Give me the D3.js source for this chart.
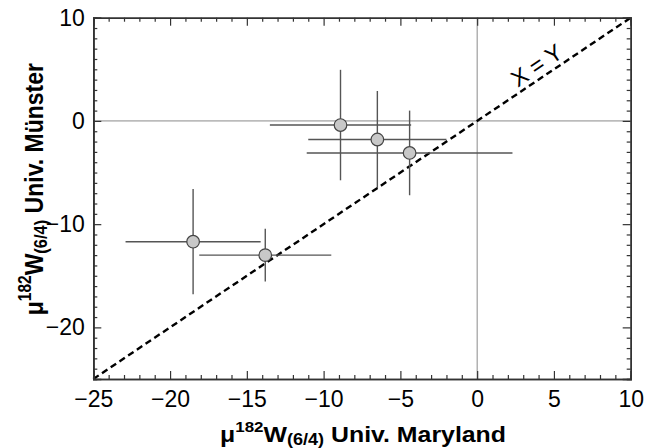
<!DOCTYPE html>
<html>
<head>
<meta charset="utf-8">
<script src="https://cdn.jsdelivr.net/npm/d3@7"></script>
<style>
  html, body { margin: 0; padding: 0; background: #fff; }
  svg { display: block; font-family: "Liberation Sans", Arial, Helvetica, sans-serif; }
</style>
</head>
<body>
<svg id="chart" width="646" height="448"></svg>
<script>
// μ182W(6/4) measured by two laboratories, with 2σ error bars
const maryland     = [-18.5, -13.8, -8.9, -6.5, -4.4];
const munster      = [-11.7, -13.0, -0.4, -1.8, -3.1];
const marylandErr  = [4.4, 4.3, 4.6, 4.5, 6.7];
const munsterErr   = [5.1, 2.55, 5.35, 4.7, 4.1];

const xDomain = [-25, 10];
const yDomain = [-25, 10];
const xTickLabels = [-25, -20, -15, -10, -5, 0, 5, 10];
const yTickLabels = [-20, -10, 0, 10];
const identityLabel = "X = Y";

const svg = d3.select("#chart");
const W = 646, H = 448;
const margin = { left: 93.3, right: W - 630.7, top: 17.7, bottom: H - 379 };

const x = d3.scaleLinear().domain(xDomain).range([margin.left, W - margin.right]);
const y = d3.scaleLinear().domain(yDomain).range([H - margin.bottom, margin.top]);

const frameColor = "#333";
const points = maryland.map((v, i) => ({ x: v, y: munster[i], ex: marylandErr[i], ey: munsterErr[i] }));

// zero reference lines
svg.append("line")
  .attr("x1", x(0)).attr("x2", x(0)).attr("y1", y(yDomain[0])).attr("y2", y(yDomain[1]))
  .attr("stroke", "#8a8a8a").attr("stroke-width", 1);
svg.append("line")
  .attr("x1", x(xDomain[0])).attr("x2", x(xDomain[1])).attr("y1", y(0)).attr("y2", y(0))
  .attr("stroke", "#8a8a8a").attr("stroke-width", 1);

// 1:1 line
svg.append("line")
  .attr("x1", x(-25)).attr("y1", y(-25)).attr("x2", x(10)).attr("y2", y(10))
  .attr("stroke", "#000").attr("stroke-width", 2.4).attr("stroke-dasharray", "6.5,4");

const angle = Math.atan2(y(0) - y(10), x(10) - x(0)) * 180 / Math.PI;
svg.append("text")
  .attr("transform", `translate(${x(4.35)},${y(4.35)}) rotate(${-angle})`)
  .attr("dy", -5)
  .attr("text-anchor", "middle")
  .attr("font-size", 23)
  .attr("fill", "#000")
  .text(identityLabel);

// error bars
const bars = svg.append("g").attr("stroke", "#555").attr("stroke-width", 1.4);
bars.selectAll("line.h").data(points).join("line").attr("class", "h")
  .attr("x1", d => x(d.x - d.ex)).attr("x2", d => x(d.x + d.ex))
  .attr("y1", d => y(d.y)).attr("y2", d => y(d.y));
bars.selectAll("line.v").data(points).join("line").attr("class", "v")
  .attr("x1", d => x(d.x)).attr("x2", d => x(d.x))
  .attr("y1", d => y(d.y - d.ey)).attr("y2", d => y(d.y + d.ey));

// markers
svg.append("g").selectAll("circle").data(points).join("circle")
  .attr("cx", d => x(d.x)).attr("cy", d => y(d.y)).attr("r", 6.3)
  .attr("fill", "#c8c8c8").attr("stroke", "#444").attr("stroke-width", 1.2);

// axes: inward ticks on all four sides, minor every unit
function styleAxis(g) {
  g.select(".domain").attr("stroke", frameColor).attr("stroke-width", 1.5);
  g.selectAll(".tick line").attr("stroke", frameColor).attr("stroke-width", 1.2);
}
const xMinor = d3.range(xDomain[0], xDomain[1] + 1, 1).filter(v => v % 5 !== 0);
const yMinor = d3.range(yDomain[0], yDomain[1] + 1, 1).filter(v => v % 10 !== 0);
const yMajor = d3.range(yDomain[0], yDomain[1] + 1, 1).filter(v => v % 10 === 0);

const bottomG = svg.append("g").attr("transform", `translate(0,${y(yDomain[0])})`);
bottomG.append("g").call(d3.axisBottom(x).tickValues(xMinor).tickSize(-4).tickFormat("")).call(styleAxis);
bottomG.append("g").call(d3.axisBottom(x).tickValues(xTickLabels).tickSize(-8).tickPadding(12)).call(styleAxis)
  .selectAll("text").attr("font-size", 23).attr("fill", "#000").attr("font-family", "Liberation Sans, Arial, sans-serif");

const topG = svg.append("g").attr("transform", `translate(0,${y(yDomain[1])})`);
topG.append("g").call(d3.axisTop(x).tickValues(xMinor).tickSize(-4).tickFormat("")).call(styleAxis);
topG.append("g").call(d3.axisTop(x).tickValues(xTickLabels).tickSize(-8).tickFormat("")).call(styleAxis);

const leftG = svg.append("g").attr("transform", `translate(${x(xDomain[0])},0)`);
leftG.append("g").call(d3.axisLeft(y).tickValues(yMinor).tickSize(-4).tickFormat("")).call(styleAxis);
leftG.append("g").call(d3.axisLeft(y).tickValues(yMajor).tickSize(-8).tickFormat("")).call(styleAxis);
leftG.append("g").call(d3.axisLeft(y).tickValues(yTickLabels).tickSize(0).tickPadding(8.5)).call(styleAxis)
  .selectAll("text").attr("font-size", 23).attr("fill", "#000").attr("font-family", "Liberation Sans, Arial, sans-serif");

const rightG = svg.append("g").attr("transform", `translate(${x(xDomain[1])},0)`);
rightG.append("g").call(d3.axisRight(y).tickValues(yMinor).tickSize(-4).tickFormat("")).call(styleAxis);
rightG.append("g").call(d3.axisRight(y).tickValues(yMajor).tickSize(-8).tickFormat("")).call(styleAxis);

// axis titles with super/subscripts (slightly widened bold lettering)
function isotopeTitle(sel, lab, size, sup, sub) {
  sel.attr("font-weight", "bold").attr("font-size", size).attr("fill", "#000").attr("text-anchor", "middle");
  sel.append("tspan").text("μ");
  sel.append("tspan").attr("font-size", sup).attr("dy", -10).text("182");
  sel.append("tspan").attr("dy", 10).text("W");
  sel.append("tspan").attr("font-size", sub).attr("dy", 3.5).text("(6/4)");
  sel.append("tspan").attr("dy", -3.5).text(" " + lab);
}
svg.append("text").attr("transform", "translate(363,441.5) scale(1.13,1)")
  .call(isotopeTitle, "Univ. Maryland", 22, 15, 16);
svg.append("text").attr("transform", "translate(42.7,189.2) rotate(-90) scale(1,1.15)")
  .call(isotopeTitle, "Univ. Münster", 23, 15.5, 16.5);
</script>
</body>
</html>
